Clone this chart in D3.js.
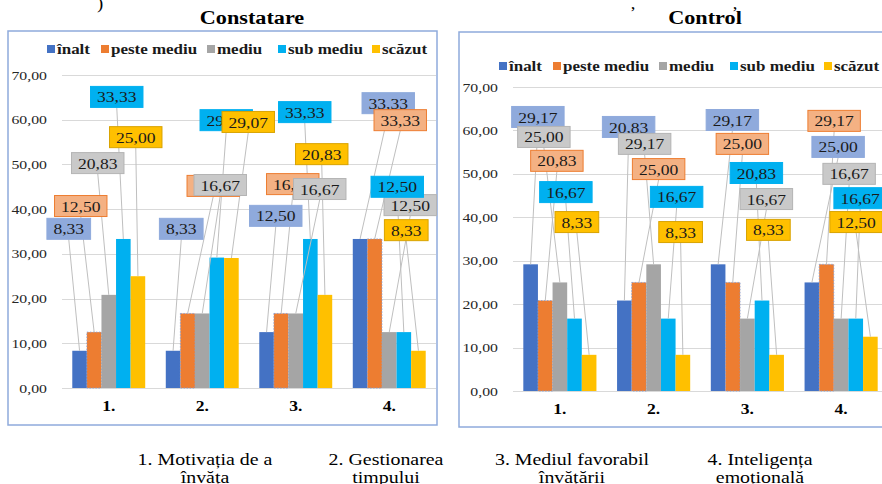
<!DOCTYPE html>
<html>
<head>
<meta charset="utf-8">
<script src="https://cdn.jsdelivr.net/npm/d3@7"></script>
<style>
  html, body { margin: 0; padding: 0; background: #ffffff; }
  svg { display: block; }
</style>
</head>
<body>
<svg id="chart" width="882" height="484"></svg>
<script>
// ---------------- DATA ----------------
const categories = ["1.", "2.", "3.", "4."];
const seriesNames = ["înalt", "peste mediu", "mediu", "sub mediu", "scăzut"];
const yTicks = [0, 10, 20, 30, 40, 50, 60, 70];

// Constatare
const constInalt      = [8.33, 8.33, 12.50, 33.33];
const constPesteMediu = [12.50, 16.67, 16.67, 33.33];
const constMediu      = [20.83, 16.67, 16.67, 12.50];
const constSubMediu   = [33.33, 29.17, 33.33, 12.50];
const constScazut     = [25.00, 29.07, 20.83, 8.33];

// Control
const ctrlInalt      = [29.17, 20.83, 29.17, 25.00];
const ctrlPesteMediu = [20.83, 25.00, 25.00, 29.17];
const ctrlMediu      = [25.00, 29.17, 16.67, 16.67];
const ctrlSubMediu   = [16.67, 16.67, 20.83, 16.67];
const ctrlScazut     = [8.33, 8.33, 8.33, 12.50];

const bottomLabels = [
  ["1. Motivația de a", "învăța"],
  ["2. Gestionarea", "timpului"],
  ["3. Mediul favorabil", "învățării"],
  ["4. Inteligența", "emoțională"]
];

// ---------------- LAYOUT / STYLE (not data) ----------------
// label placement: [dx px from category centre, y in axis units], per series, per category
const constLabelPos = [
  [[-40, 35.6], [-21, 35.6], [-20, 38.5], [-1, 63.7]],
  [[-28, 40.7], [11, 45.2], [-3, 45.6], [11, 59.9]],
  [[-11, 50.3], [18, 45.4], [24, 44.5], [21, 40.9]],
  [[8, 65.1], [24, 59.9], [9, 61.7], [8, 45.0]],
  [[27, 56.1], [46, 59.5], [26, 52.3], [17, 35.3]]
];
const ctrlLabelPos = [
  [[-22, 63.1], [-25, 60.8], [-15, 62.4], [-3, 56.2]],
  [[-3, 53.0], [5, 51.1], [-5, 56.9], [-7, 62.2]],
  [[-16, 58.5], [-9, 56.9], [19, 44.2], [8, 50.0]],
  [[6, 45.8], [23, 44.7], [9, 50.2], [19, 44.4]],
  [[17, 38.9], [27, 36.6], [21, 37.1], [15, 38.9]]
];
const legendOffsets = [0, 54, 160, 231, 325];

const barColors   = ["#4472C4", "#ED7D31", "#A5A5A5", "#00B0F0", "#FFC000"];
const labelFill   = ["#8FAADC", "#F4B183", "#C9C9C9", "#00B0F0", "#FFC000"];
const labelStroke = ["#8FAADC", "#ED7D31", "#B4B4B4", "#00B0F0", "#D9A300"];

const FONT = '"Liberation Serif"';
const SX = 1.17; // horizontal stretch of the reference's text

const svg = d3.select("#chart");
const fmt = v => v.toFixed(2).replace(".", ",");

function stext(parent, x, y, str, o) {
  const g = parent.append("g").attr("transform", `translate(${x},${y}) scale(${o.sx || SX},1)`);
  const t = g.append("text")
    .attr("x", 0).attr("y", 0)
    .attr("text-anchor", o.anchor || "start")
    .attr("dominant-baseline", o.baseline || "central")
    .style("font-family", FONT)
    .style("font-size", (o.size || 14) + "px")
    .style("font-weight", o.weight || "normal")
    .attr("fill", o.fill || "#000")
    .text(str);
  return { g, t };
}

function drawChart(cfg) {
  const root = svg.append("g");
  root.append("rect")
    .attr("x", cfg.frame[0]).attr("y", cfg.frame[1])
    .attr("width", cfg.frame[2]).attr("height", cfg.frame[3])
    .attr("fill", "#fff").attr("stroke", "#8FAADC").attr("stroke-width", 1.5);

  stext(root, cfg.titleX, cfg.titleY, cfg.title, { anchor: "middle", size: 19, weight: "bold" });

  const x = d3.scaleBand().domain(categories).range(cfg.xRange).paddingInner(0.22).paddingOuter(0.11);
  const xs = d3.scaleBand().domain(seriesNames).range([0, x.bandwidth()]);
  const y = d3.scaleLinear().domain([0, 70]).range(cfg.yRange);

  root.append("g").selectAll("line").data(yTicks).join("line")
    .attr("x1", cfg.xRange[0]).attr("x2", cfg.xRange[1])
    .attr("y1", d => Math.round(y(d)) + 0.5).attr("y2", d => Math.round(y(d)) + 0.5)
    .attr("stroke", "#D9D9D9").attr("stroke-width", 1);

  yTicks.forEach(t => stext(root, cfg.yLabelX, y(t), fmt(t), { anchor: "end", size: 13.5, fill: "#262626" }));

  categories.forEach(c => stext(root, x(c) + x.bandwidth() / 2, cfg.catY, c, { anchor: "middle", size: 15, weight: "bold" }));

  const bars = root.append("g");
  cfg.series.forEach((vals, si) => {
    bars.selectAll(null).data(vals).join("rect")
      .attr("x", (d, i) => x(categories[i]) + xs(seriesNames[si]))
      .attr("y", d => y(d))
      .attr("width", xs.bandwidth())
      .attr("height", d => y(0) - y(d))
      .attr("fill", barColors[si])
      .attr("stroke", si === 1 ? "#7F9BD6" : "none")
      .attr("stroke-width", si === 1 ? 0.8 : 0)
      .attr("stroke-dasharray", si === 1 ? "1.5,1.5" : null);
  });

  const lines = root.append("g");
  const labels = root.append("g");
  cfg.series.forEach((vals, si) => {
    vals.forEach((v, ci) => {
      const cx = x(categories[ci]) + x.bandwidth() / 2 + cfg.labelPos[si][ci][0];
      const cy = y(cfg.labelPos[si][ci][1]);
      const bx = x(categories[ci]) + xs(seriesNames[si]) + xs.bandwidth() / 2;
      const by = y(v);
      lines.append("line")
        .attr("x1", cx).attr("y1", cy + 10.5)
        .attr("x2", bx).attr("y2", by)
        .attr("stroke", "#BFBFBF").attr("stroke-width", 1);
      const lg = labels.append("g");
      const rect = lg.append("rect");
      const { t } = stext(lg, cx, cy + 0.5, fmt(v), { anchor: "middle", size: 15, fill: "#1a1a1a" });
      const w = t.node().getComputedTextLength() * SX + 13;
      rect.attr("x", cx - w / 2).attr("y", cy - 10.5).attr("width", w).attr("height", 21)
        .attr("fill", labelFill[si]).attr("stroke", labelStroke[si]).attr("stroke-width", 1);
    });
  });

  const leg = root.append("g");
  seriesNames.forEach((n, si) => {
    const lx = cfg.legendX + legendOffsets[si];
    leg.append("rect").attr("x", lx).attr("y", cfg.legendY - 4).attr("width", 8).attr("height", 8).attr("fill", barColors[si]);
    stext(leg, lx + 10, cfg.legendY, n, { size: 14.5, weight: "bold", fill: "#1a1a1a" });
  });
}

drawChart({
  title: "Constatare", titleX: 252, titleY: 18,
  frame: [8, 31, 429, 394],
  xRange: [62, 436], yRange: [388, 75],
  yLabelX: 47, catY: 406,
  legendX: 47, legendY: 49,
  series: [constInalt, constPesteMediu, constMediu, constSubMediu, constScazut],
  labelPos: constLabelPos
});

drawChart({
  title: "Control", titleX: 705, titleY: 18,
  frame: [459, 32, 430, 395],
  xRange: [513, 888], yRange: [391, 87],
  yLabelX: 498, catY: 409,
  legendX: 499, legendY: 66,
  series: [ctrlInalt, ctrlPesteMediu, ctrlMediu, ctrlSubMediu, ctrlScazut],
  labelPos: ctrlLabelPos
});

// fragments of the surrounding document text cut at the top edge
stext(svg, 100, 3, ")", { anchor: "middle", size: 16 });
stext(svg, 633, 3, ",", { anchor: "middle", size: 16 });
stext(svg, 735, 3, ",", { anchor: "middle", size: 16 });

const bottomCenters = [205, 386, 572, 760];
bottomLabels.forEach((lines, i) => {
  lines.forEach((s, j) => stext(svg, bottomCenters[i], 459 + j * 18, s, { anchor: "middle", size: 17, fill: "#000" }));
});
</script>
</body>
</html>
